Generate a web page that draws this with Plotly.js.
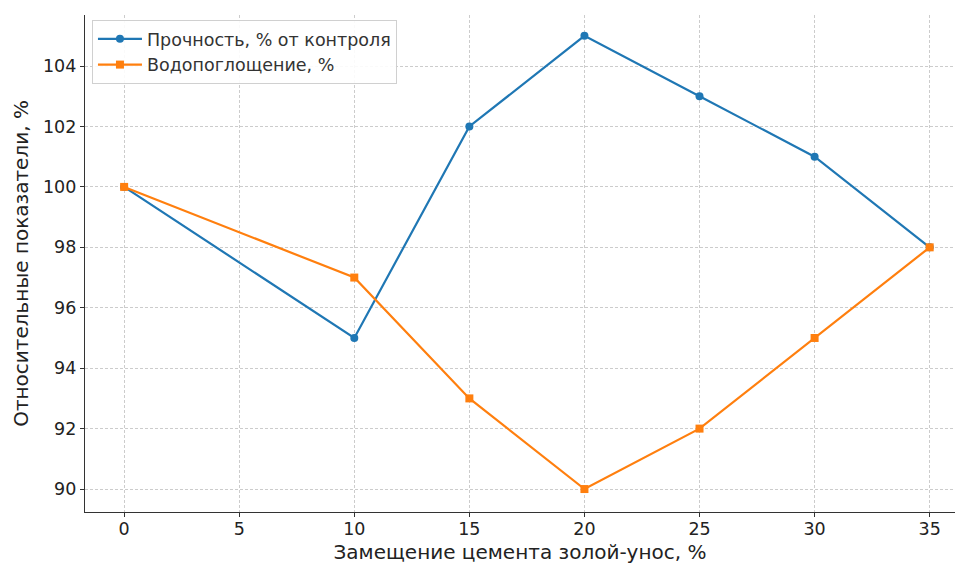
<!DOCTYPE html>
<html><head><meta charset="utf-8">
<script src="https://cdn.plot.ly/plotly-3.0.1.min.js"></script>
<style>body{margin:0;background:#fff}#c{width:956px;height:564px}</style>
</head><body><div id="c"></div>
<script>
const replacement = [0, 10, 15, 20, 25, 30, 35];
const strength = [100, 95, 102, 105, 103, 101, 98];
const waterAbs = [100, 97, 93, 90, 92, 95, 98];
const seriesNames = ['Прочность, % от контроля', 'Водопоглощение, %'];
const xTicks = [0, 5, 10, 15, 20, 25, 30, 35];
const yTicks = [90, 92, 94, 96, 98, 100, 102, 104];

const traces = [
  {x: replacement, y: strength, name: seriesNames[0], mode: 'lines+markers',
   line: {color: '#1f77b4', width: 2.2}, marker: {symbol: 'circle', size: 8, color: '#1f77b4'}},
  {x: replacement, y: waterAbs, name: seriesNames[1], mode: 'lines+markers',
   line: {color: '#ff7f0e', width: 2.2}, marker: {symbol: 'square', size: 8, color: '#ff7f0e'}}
];
const axisCommon = {
  showline: true, linecolor: '#333', linewidth: 1.3, ticks: 'outside', ticklen: 4,
  tickcolor: '#333', showgrid: true, gridcolor: '#cccccc', griddash: '3px,2px', gridwidth: 1,
  zeroline: false, tickfont: {size: 17.5, color: '#222'}, mirror: false
};
const layout = {
  width: 956, height: 564,
  margin: {l: 85, r: 1, t: 15, b: 52},
  paper_bgcolor: '#fff', plot_bgcolor: '#fff',
  font: {family: 'DejaVu Sans', color: '#222'},
  xaxis: Object.assign({}, axisCommon, {range: [-1.7, 36.1], tickvals: xTicks, ticklabelstandoff: -3,
    title: {text: 'Замещение цемента золой-унос, %', font: {size: 20}, standoff: 7}}),
  yaxis: Object.assign({}, axisCommon, {range: [89.24, 105.69], tickvals: yTicks,
    title: {text: 'Относительные показатели, %', font: {size: 20}, standoff: 8}}),
  legend: {x: 0.008, y: 0.99, xanchor: 'left', yanchor: 'top', bgcolor: 'rgba(255,255,255,0.9)',
    bordercolor: '#d0d0d0', borderwidth: 1, font: {size: 17.5, color: '#333'}, tracegroupgap: 0,
    itemwidth: 44},
  showlegend: true
};
Plotly.newPlot('c', traces, layout, {displayModeBar: false});
</script></body></html>
